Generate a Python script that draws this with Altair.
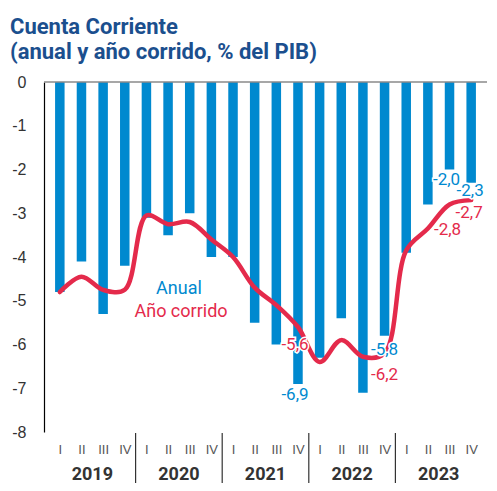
import altair as alt
import pandas as pd

# ---- data ----
years = [2019, 2020, 2021, 2022, 2023]
quarters = ["I", "II", "III", "IV"]
anual = [-4.8, -4.1, -5.3, -4.2,
         -3.1, -3.5, -3.0, -4.0,
         -4.0, -5.5, -6.0, -6.9,
         -6.3, -5.4, -7.1, -5.8,
         -3.9, -2.8, -2.0, -2.3]
corrido = [-4.8, -4.45, -4.75, -4.75,
           -3.05, -3.25, -3.2, -3.6,
           -4.0, -4.7, -5.1, -5.6,
           -6.4, -5.9, -6.28, -6.2,
           -3.85, -3.35, -2.8, -2.7]
y_ticks = [0, -1, -2, -3, -4, -5, -6, -7, -8]
labeled_anual = [11, 15, 18, 19]
labeled_corrido = [11, 15, 18, 19]

BLUE = "#0089CF"
RED = "#E42A4B"
TITLE = "#1B4F8E"
W, H = 443, 350

idx = list(range(len(anual)))
df = pd.DataFrame({"i": idx, "anual": anual, "corrido": corrido,
                   "q": [quarters[k % 4] for k in idx]})

def fmt(v):
    return f"{v:.1f}".replace(".", ",")

xs = alt.Scale(domain=[-0.5, len(idx) - 0.5], nice=False, zero=False)
ys = alt.Scale(domain=[-8, 0], nice=False, zero=False)

x_axis = alt.Axis(
    values=idx, labelExpr="['I','II','III','IV'][datum.value % 4]",
    ticks=False, domain=False, grid=False, labelPadding=11,
    labelFontSize=13, labelColor="#555555", labelFont="Liberation Sans",
    labelFlush=False, labelOverlap=False, title=None)
y_axis = alt.Axis(
    values=y_ticks, labelExpr="'' + datum.value",
    ticks=False, grid=False, domainColor="#000000", domainWidth=1.2,
    labelFontSize=16, labelColor="#333333", labelFont="Liberation Sans",
    labelPadding=18, labelOverlap=False, title=None)

def X(field):
    return alt.X(field, scale=xs, axis=x_axis)

def Y(field):
    return alt.Y(field, scale=ys, axis=y_axis)

base = alt.Chart(df)

bars = base.mark_bar(size=9.5, color=BLUE, orient="vertical").encode(
    x=X("i:Q"), y=Y("anual:Q"), y2=alt.datum(0))

top_rule = alt.Chart(pd.DataFrame({"z": [0]})).mark_rule(
    color="#8a8a8a", strokeWidth=1.5).encode(y=Y("z:Q"))

line = base.mark_line(color=RED, strokeWidth=4.5, interpolate="catmull-rom",
                      strokeCap="round", strokeJoin="round").encode(
    x=X("i:Q"), y=Y("corrido:Q"))

# value labels
lab_rows = []
offsets_a = {11: (-3, 11), 15: (0, 14), 18: (-3, 10), 19: (-1, 8)}
offsets_c = {11: (-3, 18), 15: (0, 22), 18: (-2, 25), 19: (-2, 13)}
for k in labeled_anual:
    lab_rows.append({"i": k, "v": anual[k], "t": fmt(anual[k]), "s": "a"})
for k in labeled_corrido:
    lab_rows.append({"i": k, "v": corrido[k], "t": fmt(corrido[k]), "s": "c"})
lab_df = pd.DataFrame(lab_rows)

label_layers = []
for r in lab_rows:
    dx, dy = (offsets_a if r["s"] == "a" else offsets_c)[r["i"]]
    col = BLUE if r["s"] == "a" else RED
    src = alt.Chart(lab_df).transform_filter(
        (alt.datum.i == r["i"]) & (alt.datum.s == r["s"]))
    enc = dict(x=X("i:Q"), y=Y("v:Q"), text="t:N")
    halo = src.mark_text(font="Roboto", fontSize=17, dx=dx, dy=dy,
                         baseline="middle", align="center",
                         stroke="white", strokeWidth=3, fill="white").encode(**enc)
    txt = src.mark_text(font="Roboto", fontSize=17, dx=dx, dy=dy,
                        baseline="middle", align="center", color=col).encode(**enc)
    label_layers += [halo, txt]

# legend-like texts
leg_df = pd.DataFrame({"t": ["Anual", "Año corrido"], "c": [BLUE, RED],
                       "px": [135, 137], "py": [207, 230]})
legend = alt.Chart(leg_df).mark_text(font="Roboto", fontSize=18,
                                     baseline="middle", align="center").encode(
    x=alt.X("px:Q", scale=None), y=alt.Y("py:Q", scale=None), text="t:N",
    color=alt.Color("c:N", scale=None))

# year labels and separators
yr_df = pd.DataFrame({"yr": [str(y) for y in years],
                      "pos": [4 * k + 1.5 for k in range(len(years))]})
year_text = alt.Chart(yr_df).mark_text(font="Roboto", fontSize=18, fontWeight="bold",
                                       color="#333333", baseline="middle",
                                       align="center").encode(
    x=X("pos:Q"), y=alt.value(H + 43), text="yr:N")

sep_df = pd.DataFrame({"sx": [4 * k - 0.5 for k in range(1, len(years))]})
seps = alt.Chart(sep_df).mark_rule(color="#333333", strokeWidth=1.2).encode(
    x=X("sx:Q"), y=alt.value(H + 1), y2=alt.value(H + 51))

chart = alt.layer(bars, top_rule, line, *label_layers, legend, year_text, seps).properties(
    width=W, height=H,
    autosize=alt.AutoSizeParams(type="none"),
    padding={"left": 36, "top": 74, "right": 2, "bottom": 51},
    title=alt.TitleParams(
        text=["Cuenta Corriente", "(anual y año corrido, % del PIB)"],
        anchor="start", frame="group", color=TITLE, font="Roboto", fontSize=22,
        fontWeight="bold", lineHeight=25, dx=-34, offset=10),
).configure_view(stroke=None).configure_axisX(labelOverlap=False, labelFlush=False)

chart.save("out.html", embed_options={"renderer": "svg", "actions": False})
